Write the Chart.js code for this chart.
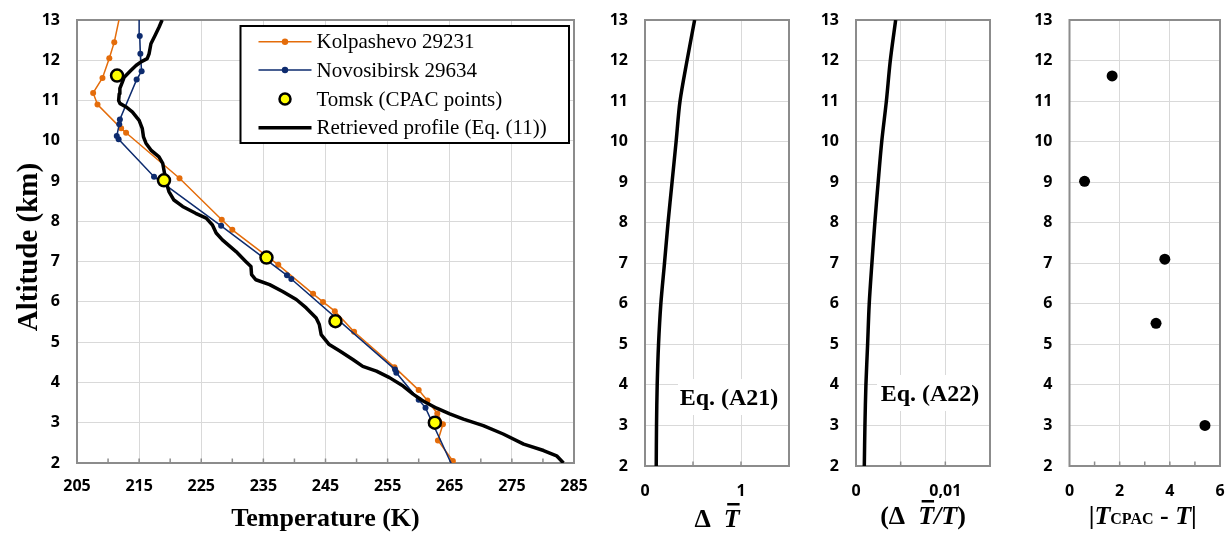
<!DOCTYPE html>
<html><head><meta charset="utf-8">
<script src="https://cdn.jsdelivr.net/npm/chart.js@4.4.0/dist/chart.umd.min.js"></script>
<style>
html,body{margin:0;padding:0;background:#fff;width:1225px;height:533px;overflow:hidden}
.p{position:absolute;top:0;height:533px}
canvas{display:block}
</style></head><body>
<div class="p" style="left:0;width:595px"><canvas id="c1" width="595" height="533"></canvas></div>
<div class="p" style="left:595px;width:205px"><canvas id="c2" width="205" height="533"></canvas></div>
<div class="p" style="left:800px;width:210px"><canvas id="c3" width="210" height="533"></canvas></div>
<div class="p" style="left:1010px;width:215px"><canvas id="c4" width="215" height="533"></canvas></div>
<script>
// ---------- DATA ----------
const kolAlt=[2.05,2.56,2.96,3.23,3.55,3.81,4.38,5.26,5.77,6.0,6.2,6.92,7.79,8.04,9.07,10.2,10.31,10.9,11.19,11.56,12.05,12.45,13.4];
const kolT  =[265.5,263.1,263.9,263.0,261.4,260.0,256.1,249.6,246.5,244.6,243.0,237.4,230.0,228.3,221.5,212.9,212.1,208.3,207.6,209.1,210.2,211.0,212.3];
const novAlt=[1.8,3.37,3.57,4.24,4.32,6.57,6.66,7.89,9.11,10.04,10.12,10.41,10.53,11.52,11.73,12.16,12.6,13.4];
const novT  =[265.8,261.1,260.0,256.4,256.2,239.5,238.8,228.2,217.4,211.7,211.4,211.8,211.9,214.6,215.4,215.2,215.1,215.0];
const tomAlt=[3.0,5.52,7.1,9.02,11.62];
const tomT  =[262.6,246.6,235.5,219.0,211.45];
const retAlt=[2.0,2.18,2.31,2.47,2.72,2.93,3.09,3.22,3.36,3.54,3.71,3.91,4.12,4.28,4.4,4.57,4.78,4.94,5.19,5.44,5.6,5.85,6.06,6.26,6.43,6.55,6.68,6.88,7.0,7.25,7.54,7.71,7.91,8.08,8.2,8.37,8.53,8.74,9.0,9.27,9.44,9.6,9.77,9.94,10.1,10.31,10.51,10.72,10.84,10.93,11.0,11.17,11.3,11.46,11.58,11.75,11.87,11.96,12.04,12.16,12.41,12.63,12.82,13.0];
const retT  =[283.3,282.2,280.1,276.9,273.6,270.4,267.2,265.0,262.9,260.7,259.1,257.5,255.3,253.2,251.0,249.4,247.3,245.6,244.3,244.0,243.5,241.9,240.3,238.1,236.0,233.8,233.1,233.0,232.2,230.6,228.4,227.4,226.8,225.8,224.1,222.0,220.6,219.8,219.3,219.0,218.8,218.2,216.9,216.1,215.7,215.5,215.0,213.9,212.9,211.9,211.7,211.8,211.9,212.3,212.6,213.7,214.5,215.3,216.3,216.6,216.9,217.6,218.2,218.7];
const errAlt=[2,3,4,5,6,7,8,9,10,11,12,13];
const errAbs=[0.117,0.12,0.127,0.141,0.165,0.203,0.24,0.282,0.324,0.365,0.438,0.517];
const errRel=[0.00093,0.001,0.00111,0.0013,0.00148,0.00178,0.00211,0.00248,0.00288,0.0034,0.00384,0.00444];
const diffAlt=[11.62,9.02,7.1,5.52,3.0];
const diffVal=[1.7,0.6,3.8,3.45,5.4];
const tempMinor=[210,215,220,225,230,235,240,245,250,255,260,265,270,275,280];
const absMinor=[0.5,1];
const relMinor=[0.005,0.01];
const diffMinor=[1,2,3,4,5];
const legendLabels=['Kolpashevo 29231','Novosibirsk 29634','Tomsk (CPAC points)','Retrieved profile (Eq. (11))'];

// ---------- HELPERS ----------
const pts=(xs,ys)=>xs.map((x,i)=>({x:x,y:ys[i]}));
const SERIF='"Liberation Serif","Times New Roman",serif';
const B='bold 26px '+SERIF, BI='italic bold 26px '+SERIF;
const ORANGE='#E46C0A', NAVY='#0D2B6E';
const tickFont={family:'"Open Sans",sans-serif',weight:'bold',size:16};

function drawRuns(ctx,runs,cx,base){
  let tot=0;
  runs.forEach(r=>{ctx.font=r.f;r.w=ctx.measureText(r.t).width;tot+=r.w;});
  let x=cx-tot/2;
  ctx.textAlign='left';ctx.textBaseline='alphabetic';ctx.fillStyle='#000';
  runs.forEach(r=>{ctx.font=r.f;ctx.fillText(r.t,x,base);
    if(r.bar){ctx.fillRect(x+r.w*0.22,base-24,r.w*0.78,2.5);} x+=r.w;});
}

const framePlugin={id:'frame',
  beforeDatasetsDraw(chart,args,o){
    const ctx=chart.ctx,a=chart.chartArea,xs=chart.scales.x;
    ctx.save();
    if(o.eq){
      ctx.fillStyle='#fff';
      ctx.fillRect(a.right-o.eq.w,a.top+o.eq.top,o.eq.w,o.eq.h);
      ctx.fillStyle='#000';ctx.font='bold 24px '+SERIF;ctx.textAlign='center';ctx.textBaseline='middle';
      ctx.fillText(o.eq.text,a.right-o.eq.cx,a.top+o.eq.cy);
    }
    ctx.strokeStyle='#8c8c8c';ctx.lineWidth=1.5;
    (o.minor||[]).forEach(v=>{const px=xs.getPixelForValue(v);
      ctx.beginPath();ctx.moveTo(px,a.bottom);ctx.lineTo(px,a.bottom-4.5);ctx.stroke();});
    ctx.lineWidth=2;ctx.strokeRect(a.left,a.top,a.right-a.left,a.bottom-a.top);
    ctx.restore();
  },
  afterDraw(chart,args,o){
    const ctx=chart.ctx,a=chart.chartArea;
    ctx.save();
    if(o.title){drawRuns(ctx,o.title,(a.left+a.right)/2+(o.titleDx||0),o.titleBase);}
    if(o.ytitle){
      ctx.translate(30,247);ctx.rotate(-Math.PI/2);
      ctx.font='bold 29px '+SERIF;ctx.fillStyle='#000';ctx.textAlign='center';ctx.textBaseline='middle';
      ctx.fillText(o.ytitle,0,0);
      ctx.setTransform(1,0,0,1,0,0);
    }
    if(o.legend){
      const L=a.left+163.5,T=a.top+6,W=328.5,H=117;
      ctx.fillStyle='#fff';ctx.fillRect(L,T,W,H);
      ctx.strokeStyle='#000';ctx.lineWidth=2;ctx.strokeRect(L,T,W,H);
      const ys=[15.7,44,73,101.7].map(v=>T+v);
      const x1=L+18,x2=L+71,xm=(x1+x2)/2;
      ctx.strokeStyle=ORANGE;ctx.lineWidth=1.5;ctx.beginPath();ctx.moveTo(x1,ys[0]);ctx.lineTo(x2,ys[0]);ctx.stroke();
      ctx.fillStyle=ORANGE;ctx.beginPath();ctx.arc(xm,ys[0],3.2,0,Math.PI*2);ctx.fill();
      ctx.strokeStyle=NAVY;ctx.beginPath();ctx.moveTo(x1,ys[1]);ctx.lineTo(x2,ys[1]);ctx.stroke();
      ctx.fillStyle=NAVY;ctx.beginPath();ctx.arc(xm,ys[1],3.2,0,Math.PI*2);ctx.fill();
      ctx.fillStyle='#FFFF00';ctx.strokeStyle='#000';ctx.lineWidth=2.5;ctx.beginPath();ctx.arc(xm,ys[2],5.5,0,Math.PI*2);ctx.fill();ctx.stroke();
      ctx.strokeStyle='#000';ctx.lineWidth=3.5;ctx.beginPath();ctx.moveTo(x1,ys[3]);ctx.lineTo(x2,ys[3]);ctx.stroke();
      ctx.fillStyle='#000';ctx.font='21px '+SERIF;ctx.textAlign='left';ctx.textBaseline='middle';
      legendLabels.forEach((t,i)=>ctx.fillText(t,L+76,ys[i]+1));
    }
    ctx.restore();
  }
};

function opts(c){
  return {
    responsive:false,animation:false,events:[],
    layout:{autoPadding:false,padding:{left:0,right:c.padR,top:c.top,bottom:0}},
    plugins:{legend:{display:false},tooltip:{enabled:false},frame:c.frame},
    scales:{
      x:{type:'linear',min:c.xmin,max:c.xmax,
        ticks:{stepSize:c.xstep,autoSkip:false,maxRotation:0,padding:c.xpad,color:'#000',font:tickFont,
          callback:c.xcb||((v)=>String(v))},
        grid:{color:'#d9d9d9',lineWidth:1,drawTicks:false},border:{display:false},
        afterFit:s=>{s.height=c.xh;s.paddingLeft=0;s.paddingRight=0;}},
      y:{type:'linear',min:2,max:13,
        ticks:{stepSize:1,autoSkip:false,padding:17,color:'#000',font:tickFont},
        grid:{color:'#d9d9d9',lineWidth:1,drawTicks:false},border:{display:false},
        afterFit:s=>{s.width=c.yw;s.paddingTop=0;s.paddingBottom=0;}}
    }
  };
}

// ---------- PANEL 1 ----------
new Chart(document.getElementById('c1'),{type:'scatter',
  data:{datasets:[
    {label:legendLabels[2],data:pts(tomT,tomAlt),order:0,showLine:false,pointRadius:6,pointBorderWidth:2.5,pointBackgroundColor:'#FFFF00',pointBorderColor:'#000'},
    {label:legendLabels[3],data:pts(retT,retAlt),order:1,showLine:true,borderColor:'#000',borderWidth:3.5,pointRadius:0,tension:0,borderJoinStyle:'round'},
    {label:legendLabels[1],data:pts(novT,novAlt),order:2,showLine:true,borderColor:NAVY,borderWidth:1.5,pointRadius:3,pointBackgroundColor:NAVY,pointBorderColor:NAVY,pointBorderWidth:0},
    {label:legendLabels[0],data:pts(kolT,kolAlt),order:3,showLine:true,borderColor:ORANGE,borderWidth:1.5,pointRadius:3,pointBackgroundColor:ORANGE,pointBorderColor:ORANGE,pointBorderWidth:0}
  ]},
  options:opts({padR:21,top:20,xmin:205,xmax:285,xstep:10,xpad:14,xh:70,yw:77,
    frame:{minor:tempMinor,legend:true,ytitle:'Altitude (km)',title:[{t:'Temperature (K)',f:B}],titleBase:526}}),
  plugins:[framePlugin]});

// ---------- PANEL 2 ----------
new Chart(document.getElementById('c2'),{type:'scatter',
  data:{datasets:[{data:pts(errAbs,errAlt),showLine:true,borderColor:'#000',borderWidth:3.5,pointRadius:0,tension:0.3}]},
  options:opts({padR:11,top:20,xmin:0,xmax:1.5,xstep:0.5,xpad:16,xh:67,yw:50,
    xcb:(v)=>(v===0?'0':(Math.abs(v-1)<1e-9?'1':'')),
    frame:{minor:absMinor,eq:{text:'Eq. (A21)',w:111,top:359,h:36,cx:60,cy:379},
      title:[{t:'Δ',f:B},{t:'  ',f:B},{t:'T',f:BI,bar:true}],titleBase:527}}),
  plugins:[framePlugin]});

// ---------- PANEL 3 ----------
new Chart(document.getElementById('c3'),{type:'scatter',
  data:{datasets:[{data:pts(errRel,errAlt),showLine:true,borderColor:'#000',borderWidth:3.5,pointRadius:0,tension:0.3}]},
  options:opts({padR:20,top:20,xmin:0,xmax:0.015,xstep:0.005,xpad:16,xh:67,yw:56,
    xcb:(v)=>(v===0?'0':(Math.abs(v-0.01)<1e-9?'0,01':'')),
    frame:{minor:relMinor,eq:{text:'Eq. (A22)',w:113,top:355,h:36,cx:60,cy:375},
      title:[{t:'(',f:B},{t:'Δ',f:B},{t:'  ',f:B},{t:'T',f:BI,bar:true},{t:'/',f:BI},{t:'T',f:BI},{t:')',f:B}],titleBase:524}}),
  plugins:[framePlugin]});

// ---------- PANEL 4 ----------
new Chart(document.getElementById('c4'),{type:'scatter',
  data:{datasets:[{data:pts(diffVal,diffAlt),showLine:false,pointRadius:5.5,pointBorderWidth:0,pointBackgroundColor:'#000',pointBorderColor:'#000'}]},
  options:opts({padR:5,top:20,xmin:0,xmax:6,xstep:2,xpad:16,xh:67,yw:59.5,
    frame:{minor:diffMinor,
      title:[{t:'|',f:B},{t:'T',f:BI},{t:'CPAC',f:'bold 16px '+SERIF},{t:' - ',f:B},{t:'T',f:BI},{t:'|',f:B}],titleBase:524,titleDx:-2}}),
  plugins:[framePlugin]});
</script>
</body></html>
